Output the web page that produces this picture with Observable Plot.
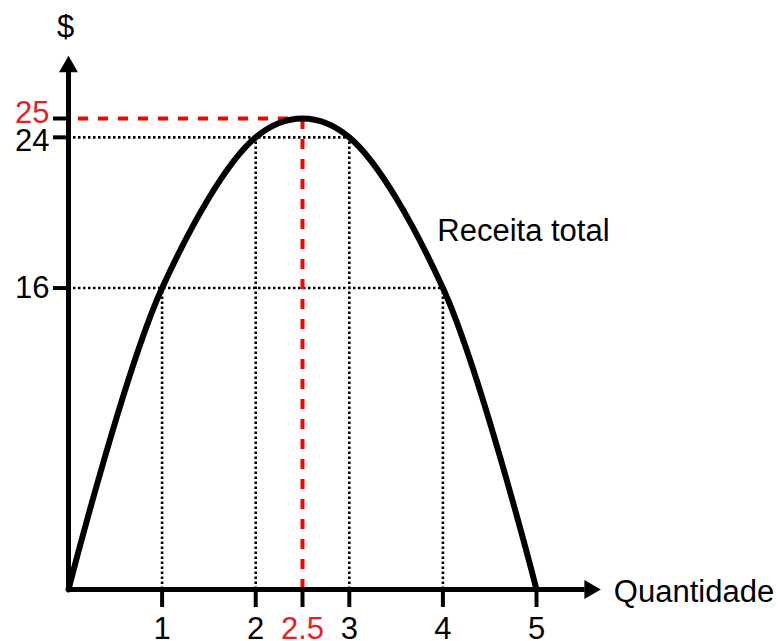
<!DOCTYPE html>
<html>
<head>
<meta charset="utf-8">
<script src="https://cdn.jsdelivr.net/npm/d3@7"></script>
<script src="https://cdn.jsdelivr.net/npm/@observablehq/plot@0.6"></script>
<style>
  html, body { margin: 0; padding: 0; background: #fff; }
  #chart svg { display: block; }
</style>
</head>
<body>
<div id="chart"></div>
<script>
// ---- data ----
const quantities = [0, 1, 2, 2.5, 3, 4, 5];
const revenue = [0, 16, 24, 25, 24, 16, 0];
const xTicksBlack = [1, 2, 3, 4, 5];
const xTicksRed = [2.5];
const yTicksBlack = [16, 24];
const yTicksRed = [25];
const curveLabel = "Receita total";
const xAxisLabel = "Quantidade";
const yAxisLabel = "$";
// axis extents (data units) for the arrows
const xAxisEnd = 5.57;
const yAxisEnd = 27.75;

const points = quantities.map((q, i) => ({q, r: revenue[i]}));
const maxQ = v => d3.max(points.filter(p => p.r === v), p => p.q);

// dotted guides
const dotH = yTicksBlack.map(v => ({y: v, x2: maxQ(v)}));
const dotV = points.filter(p => yTicksBlack.includes(p.r)).map(p => ({x: p.q, y2: p.r}));
// red dashed guides
const peak = points.find(p => p.r === yTicksRed[0]);

const font = "Liberation Sans, Arial, Helvetica, sans-serif";
const fs = 31;
const red = "#ff0000";
const redText = "#ec1c24";

const chart = Plot.plot({
  width: 783,
  height: 641,
  marginLeft: 68,
  marginRight: 247,
  marginTop: 118,
  marginBottom: 52,
  style: {fontFamily: font, background: "#fff", overflow: "visible"},
  x: {type: "linear", domain: [0, 5], axis: null},
  y: {type: "linear", domain: [0, 25], axis: null},
  marks: [
    // dotted guides
    Plot.ruleY(dotH, {y: "y", x1: 0, x2: "x2", stroke: "black", strokeWidth: 2.6, strokeDasharray: "2.5,2.5"}),
    Plot.ruleX(dotV, {x: "x", y1: 0, y2: "y2", stroke: "black", strokeWidth: 2.6, strokeDasharray: "2.5,2.5"}),
    // red dashed guides
    Plot.ruleY([peak], {y: "r", x1: 0, x2: "q", stroke: red, strokeWidth: 4, strokeDasharray: "10,10", strokeDashoffset: 10}),
    Plot.ruleX([peak], {x: "q", y1: 0, y2: "r", stroke: red, strokeWidth: 4, strokeDasharray: "10,10"}),
    // revenue curve
    Plot.line(points, {x: "q", y: "r", curve: "catmull-rom", stroke: "black", strokeWidth: 6, strokeLinejoin: "round"}),
    // axes lines
    Plot.ruleX([0], {y1: 0, y2: yAxisEnd - 0.3, stroke: "black", strokeWidth: 5}),
    Plot.ruleY([0], {x1: 0, x2: xAxisEnd - 0.05, stroke: "black", strokeWidth: 5}),
    // arrow heads
    Plot.dot([{x: 0, y: yAxisEnd}], {x: "x", y: "y", symbol: "triangle", r: 7.05, fill: "black", stroke: "none"}),
    Plot.dot([{x: xAxisEnd, y: 0}], {x: "x", y: "y", symbol: "triangle", r: 7.05, fill: "black", stroke: "none", rotate: 90}),
    // ticks (no labels; labels drawn below)
    Plot.axisX([...xTicksBlack, ...xTicksRed], {tickSize: 18, tickFormat: () => "", strokeWidth: 4, stroke: "black"}),
    Plot.axisY([...yTicksBlack, ...yTicksRed], {tickSize: 15, tickFormat: () => "", strokeWidth: 4, stroke: "black"}),
    // x tick labels
    Plot.text(xTicksBlack, {x: d => d, y: 0, dy: 40, text: d => String(d), fontSize: fs, fill: "black"}),
    Plot.text(xTicksRed, {x: d => d, y: 0, dy: 40, text: d => String(d), fontSize: fs, fill: redText}),
    // y tick labels
    Plot.text(yTicksBlack.filter(v => v < 20), {x: 0, y: d => d, dx: -19, text: d => String(d), textAnchor: "end", fontSize: fs, fill: "black"}),
    Plot.text(yTicksBlack.filter(v => v >= 20), {x: 0, y: d => d, dx: -19, dy: 4, text: d => String(d), textAnchor: "end", fontSize: fs, fill: "black"}),
    Plot.text(yTicksRed, {x: 0, y: d => d, dx: -19, dy: -5, text: d => String(d), textAnchor: "end", fontSize: fs, fill: redText}),
    // axis titles
    Plot.text([yAxisLabel], {x: 0, y: yAxisEnd, dx: -3, dy: -40, text: d => d, fontSize: fs, fill: "black"}),
    Plot.text([xAxisLabel], {x: xAxisEnd, y: 0, dx: 24, dy: 3, text: d => d, textAnchor: "start", fontSize: fs, fill: "black"}),
    // curve label
    Plot.text([curveLabel], {x: 3.94, y: 19.05, text: d => d, textAnchor: "start", fontSize: fs, fill: "black"})
  ]
});
document.getElementById("chart").appendChild(chart);
</script>
</body>
</html>
